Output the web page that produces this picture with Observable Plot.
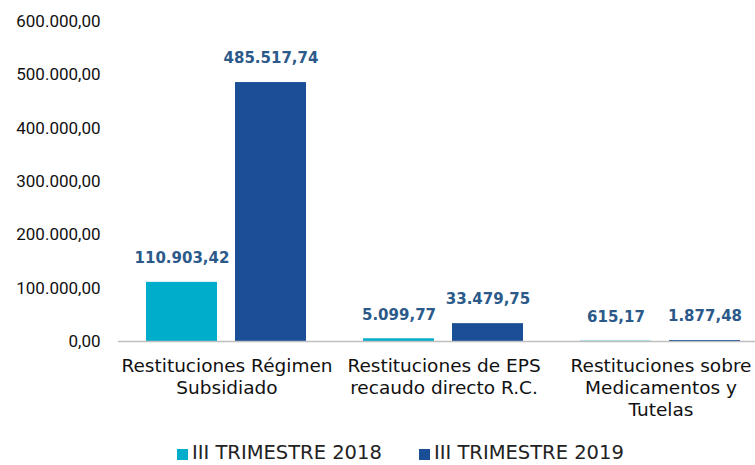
<!DOCTYPE html>
<html>
<head>
<meta charset="utf-8">
<script src="https://cdn.jsdelivr.net/npm/d3@7"></script>
<script src="https://cdn.jsdelivr.net/npm/@observablehq/plot@0.6"></script>
<style>
  html, body { margin: 0; padding: 0; background: #fff; }
  #chart { width: 755px; height: 465px; position: relative; overflow: hidden; }
  .legend { position: absolute; top: 443px; left: 0; width: 755px; font-family: "DejaVu Sans", Verdana, sans-serif; font-size: 19.5px; line-height: 20px; color: #222; }
  .item { position: absolute; top: 0; display: flex; align-items: center; }
  .sw { width: 11px; height: 11px; margin-right: 4px; margin-top: 3px; }
</style>
</head>
<body>
<div id="chart"></div>
<script>
const categories = [
  "Restituciones Régimen\nSubsidiado",
  "Restituciones de EPS\nrecaudo directo R.C.",
  "Restituciones sobre\nMedicamentos y\nTutelas"
];
const seriesNames = ["III TRIMESTRE 2018", "III TRIMESTRE 2019"];
const values2018 = [110903.42, 5099.77, 615.17];
const values2019 = [485517.74, 33479.75, 1877.48];
const yTicks = [0, 100000, 200000, 300000, 400000, 500000, 600000];
const colors = ["#00AECB", "#1A4F97"];

const data = [];
categories.forEach((c, i) => {
  data.push({cat: c, series: seriesNames[0], value: values2018[i]});
  data.push({cat: c, series: seriesNames[1], value: values2019[i]});
});

const fmt = v => v.toLocaleString("de-DE", {minimumFractionDigits: 2, maximumFractionDigits: 2});

const plot = Plot.plot({
  width: 755,
  height: 435,
  marginLeft: 118,
  marginRight: -14,
  marginTop: 21,
  marginBottom: 94,
  style: {background: "transparent", overflow: "hidden"},
  fx: {domain: categories, padding: 0, label: null, axis: null},
  x: {domain: seriesNames, paddingInner: 0.2, paddingOuter: 0.3056, axis: null},
  y: {domain: [0, 600000], ticks: yTicks, label: null, axis: null},
  color: {domain: seriesNames, range: colors},
  marks: [
    Plot.axisY({
      ticks: yTicks,
      tickFormat: fmt,
      tickSize: 0,
      tickPadding: 18,
      label: null,
      fontSize: 17,
      fontFamily: "Roboto, sans-serif",
      fill: "#111"
    }),
    Plot.barY(data, {fx: "cat", x: "series", y: "value", fill: "series"}),
    Plot.ruleY([0], {stroke: "#BFBFBF", strokeWidth: 1.5}),
    Plot.text(data, {
      fx: "cat", x: "series", y: "value", text: d => fmt(d.value),
      dy: -24, lineAnchor: "middle", fontWeight: "bold", fontSize: 15,
      fontFamily: "'DejaVu Sans', Verdana, sans-serif", fill: "#2B5A8A"
    }),
    Plot.text(categories, {
      fx: d => d, y: 0, text: d => d, frameAnchor: "middle",
      dy: 15, lineAnchor: "top", lineHeight: 1.18, fontSize: 18.5,
      fontFamily: "'DejaVu Sans', Verdana, sans-serif", fill: "#111"
    })
  ]
});
const chart = document.getElementById("chart");
chart.appendChild(plot);

const legend = document.createElement("div");
legend.className = "legend";
const lefts = [177, 419];
seriesNames.forEach((s, i) => {
  const it = document.createElement("div");
  it.className = "item";
  it.style.left = lefts[i] + "px";
  const sw = document.createElement("div");
  sw.className = "sw";
  sw.style.background = colors[i];
  const t = document.createElement("span");
  t.textContent = s;
  it.appendChild(sw); it.appendChild(t);
  legend.appendChild(it);
});
chart.appendChild(legend);
</script>
</body>
</html>
